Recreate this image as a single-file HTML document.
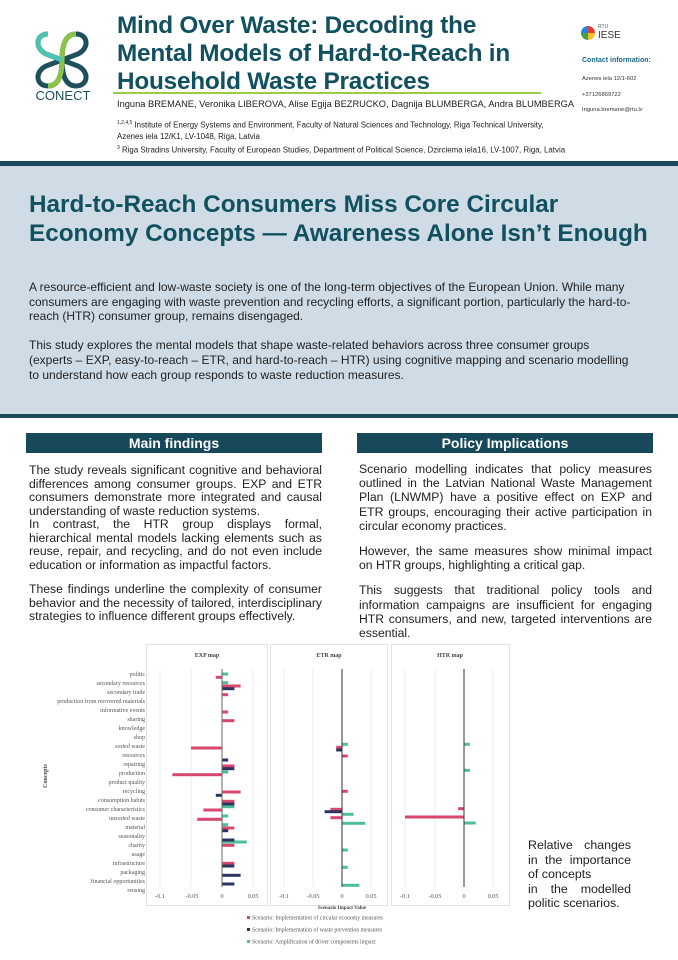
<!DOCTYPE html>
<html><head><meta charset="utf-8"><style>
*{margin:0;padding:0;box-sizing:border-box}
body{width:678px;height:960px;position:relative;background:#fff;font-family:"Liberation Sans",sans-serif;overflow:hidden;color:#222}
.a{position:absolute}
.t1{left:117px;top:12px;font-size:24.3px;line-height:28px;font-weight:bold;color:#10505f;letter-spacing:-0.2px}
.sec{background:#17495a;color:#fff;font-weight:bold;font-size:14px;text-align:center;height:20px;line-height:20px}
.body{font-size:12.2px;text-align:justify;color:#222}
.body p{margin-bottom:11px}
</style></head><body>
<svg class="a" style="left:28px;top:26px" width="70" height="78" viewBox="0 0 70 78">
<path d="M20 8 C8 8 6 22 18 28 L34 34 L50 40 C62 46 60 60 48 60 C38 60 34 50 34 34 C34 18 38 8 48 8 C60 8 62 22 50 28 L34 34 L18 40 C6 46 8 60 20 60 C30 60 34 50 34 34" fill="none" stroke="#1f4f5c" stroke-width="5"/>
<path d="M48 8 C38 8 34 18 34 34 C34 50 30 60 20 60" fill="none" stroke="#8bc34a" stroke-width="5"/>
<path d="M20 8 C8 8 6 22 18 28 L34 34" fill="none" stroke="#4fc1b0" stroke-width="5"/>
<text x="35" y="74" text-anchor="middle" font-family="Liberation Sans" font-size="13" fill="#1f4f5c">CONECT</text>
</svg>
<div class="a t1">Mind Over Waste: Decoding the<br>Mental Models of Hard-to-Reach in<br>Household Waste Practices</div>
<div class="a" style="left:113px;top:92px;width:428px;height:2px;background:#9ccc44"></div>
<div class="a" style="left:117px;top:99px;font-size:9.3px;color:#222">Inguna BREMANE, Veronika LIBEROVA, Alise Egija BEZRUCKO, Dagnija BLUMBERGA, Andra BLUMBERGA</div>
<div class="a" style="left:117px;top:118px;font-size:7.9px;line-height:11.5px;color:#222"><sup style="font-size:5px">1,2,4,5</sup> Institute of Energy Systems and Environment, Faculty of Natural Sciences and Technology, Riga Technical University,<br>Azenes iela 12/K1, LV-1048, Riga, Latvia<br><sup style="font-size:5px">3</sup> Riga Stradins University, Faculty of European Studies, Department of Political Science, Dzirciema iela16, LV-1007, Riga, Latvia</div>
<div class="a" style="left:581px;top:26px;width:14px;height:14px;border-radius:50%;background:conic-gradient(#e53935 0 25%,#fbc02d 0 50%,#43a047 0 75%,#1e88e5 0)"></div>
<div class="a" style="left:598px;top:24px;font-size:5px;color:#555">RTU</div>
<div class="a" style="left:598px;top:30px;font-size:10px;color:#333">IESE</div>
<div class="a" style="left:582px;top:57px;font-size:7px;font-weight:bold;color:#1f6a86">Contact information:</div>
<div class="a" style="left:582px;top:72px;font-size:5.8px;line-height:15.5px;color:#333">Azenes iela 12/1-602<br>+37126869722<br>Inguna.bremane@rtu.lv</div>
<div class="a" style="left:0;top:161px;width:678px;height:5px;background:#1b4a5a"></div>
<div class="a" style="left:0;top:166px;width:678px;height:249px;background:#cfdce6"></div>
<div class="a" style="left:0;top:414px;width:678px;height:4px;background:#1b4a5a"></div>
<div class="a" style="left:29px;top:190px;font-size:24.3px;line-height:29px;font-weight:bold;color:#10505f">Hard-to-Reach Consumers Miss Core Circular<br>Economy Concepts — Awareness Alone Isn’t Enough</div>
<div class="a" style="left:29px;top:280px;width:616px;font-size:12px;line-height:14.6px;color:#222;white-space:nowrap">A resource-efficient and low-waste society is one of the long-term objectives of the European Union. While many<br>consumers are engaging with waste prevention and recycling efforts, a significant portion, particularly the hard-to-<br>reach (HTR) consumer group, remains disengaged.<br><br>This study explores the mental models that shape waste-related behaviors across three consumer groups<br>(experts – EXP, easy-to-reach – ETR, and hard-to-reach – HTR) using cognitive mapping and scenario modelling<br>to understand how each group responds to waste reduction measures.</div>
<div class="a sec" style="left:26px;top:433px;width:296px">Main findings</div>
<div class="a sec" style="left:357px;top:433px;width:296px">Policy Implications</div>
<div class="a body" style="left:29px;top:464px;width:293px;line-height:13.5px"><p>The study reveals significant cognitive and behavioral differences among consumer groups. EXP and ETR consumers demonstrate more integrated and causal understanding of waste reduction systems.<br>In contrast, the HTR group displays formal, hierarchical mental models lacking elements such as reuse, repair, and recycling, and do not even include education or information as impactful factors.</p><p>These findings underline the complexity of consumer behavior and the necessity of tailored, interdisciplinary strategies to influence different groups effectively.</p></div>
<div class="a body" style="left:359px;top:462px;width:293px;line-height:14.2px"><p>Scenario modelling indicates that policy measures outlined in the Latvian National Waste Management Plan (LNWMP) have a positive effect on EXP and ETR groups, encouraging their active participation in circular economy practices.</p><p>However, the same measures show minimal impact on HTR groups, highlighting a critical gap.</p><p>This suggests that traditional policy tools and information campaigns are insufficient for engaging HTR consumers, and new, targeted interventions are essential.</p></div>
<div class="a body" style="left:528px;top:838px;width:103px;font-size:12.4px;line-height:14.5px">Relative changes in the importance of concepts<br>in the modelled politic scenarios.</div>
<svg class="a" style="left:0;top:0" width="678" height="960" font-family="Liberation Serif,serif">
<g fill="none" stroke="#ddd" stroke-width="0.8">
<rect x="146.5" y="644.5" width="121" height="261"/>
<rect x="270.5" y="644.5" width="117" height="261"/>
<rect x="391.5" y="644.5" width="118" height="261"/>
</g>
<g stroke="#eaeaea" stroke-width="0.8">
<line x1="160" y1="669" x2="160" y2="887"/><line x1="191" y1="669" x2="191" y2="887"/><line x1="253" y1="669" x2="253" y2="887"/>
<line x1="284" y1="669" x2="284" y2="887"/><line x1="313" y1="669" x2="313" y2="887"/><line x1="371" y1="669" x2="371" y2="887"/>
<line x1="405" y1="669" x2="405" y2="887"/><line x1="435" y1="669" x2="435" y2="887"/><line x1="493" y1="669" x2="493" y2="887"/>
</g>
<g font-size="6" font-weight="bold" fill="#444" text-anchor="middle">
<text x="207" y="657">EXP map</text><text x="329" y="657">ETR map</text><text x="450" y="657">HTR map</text>
<text x="342" y="909" font-size="5">Scenario Impact Value</text>
</g>
<text transform="translate(47,776) rotate(-90)" font-size="6" font-weight="bold" fill="#444" text-anchor="middle">Concepts</text>
<g font-size="6.2" fill="#555" text-anchor="middle">
<text x="160" y="898">-0.1</text><text x="192" y="898">-0.05</text><text x="222" y="898">0</text><text x="253" y="898">0.05</text>
<text x="284" y="898">-0.1</text><text x="313" y="898">-0.05</text><text x="342" y="898">0</text><text x="371" y="898">0.05</text>
<text x="405" y="898">-0.1</text><text x="435" y="898">-0.05</text><text x="464" y="898">0</text><text x="493" y="898">0.05</text>
</g>
<g font-size="6" fill="#555" text-anchor="end">
<text x="145" y="676">politic</text><text x="145" y="685">secondary resources</text><text x="145" y="694">secondary trade</text><text x="145" y="703">production from recovered materials</text><text x="145" y="712">informative events</text><text x="145" y="721">sharing</text><text x="145" y="730">knowledge</text><text x="145" y="739">shop</text><text x="145" y="748">sorted waste</text><text x="145" y="757">resources</text><text x="145" y="766">repairing</text><text x="145" y="775">production</text><text x="145" y="784">product quality</text><text x="145" y="793">recycling</text><text x="145" y="802">consumption habits</text><text x="145" y="811">consumer characteristics</text><text x="145" y="820">unsorted waste</text><text x="145" y="829">material</text><text x="145" y="838">seasonality</text><text x="145" y="847">charity</text><text x="145" y="856">usage</text><text x="145" y="865">infrastructure</text><text x="145" y="874">packaging</text><text x="145" y="883">financial opportunities</text><text x="145" y="892">reusing</text>
</g>
<g fill="#4fbf9a">
<rect x="222" y="672.5" width="6.2" height="3"/><rect x="222" y="681.2" width="6.2" height="3"/><rect x="222" y="770.5" width="6.2" height="3"/><rect x="222" y="805.2" width="12.4" height="3"/><rect x="222" y="814.5" width="6.2" height="3"/><rect x="222" y="823.2" width="6.2" height="3"/><rect x="222" y="840.5" width="24.8" height="3"/>
<rect x="342" y="742.8" width="5.8" height="3"/><rect x="342" y="812.8" width="11.6" height="3"/><rect x="342" y="821.8" width="23.2" height="3"/><rect x="342" y="848.5" width="5.8" height="3"/><rect x="342" y="865.8" width="5.8" height="3"/><rect x="342" y="883.8" width="17.4" height="3"/>
<rect x="464" y="742.8" width="5.9" height="3"/><rect x="464" y="768.8" width="5.9" height="3"/><rect x="464" y="821.5" width="11.8" height="3"/>
</g>
<g fill="#d9466e">
<rect x="215.8" y="675.8" width="6.2" height="3"/><rect x="222" y="684.5" width="18.6" height="3"/><rect x="222" y="693.2" width="6.2" height="3"/><rect x="222" y="710.5" width="6.2" height="3"/><rect x="222" y="719.2" width="12.4" height="3"/><rect x="191" y="746.5" width="31" height="3"/><rect x="222" y="764.5" width="12.4" height="3"/><rect x="172.4" y="773.2" width="49.6" height="3"/><rect x="222" y="790.5" width="18.6" height="3"/><rect x="222" y="799.8" width="12.4" height="3"/><rect x="203.4" y="808.5" width="18.6" height="3"/><rect x="197.2" y="817.8" width="24.8" height="3"/><rect x="222" y="826.5" width="12.4" height="3"/><rect x="222" y="843.8" width="12.4" height="3"/><rect x="222" y="861.8" width="12.4" height="3"/>
<rect x="336.2" y="745.8" width="5.8" height="3"/><rect x="342" y="754.5" width="5.8" height="3"/><rect x="342" y="789.8" width="5.8" height="3"/><rect x="330.4" y="807.8" width="11.6" height="3"/><rect x="330.4" y="816.2" width="11.6" height="3"/>
<rect x="458.1" y="807.2" width="5.9" height="3"/><rect x="405" y="815.5" width="59" height="3"/>
</g>
<g fill="#2e3462">
<rect x="222" y="687.2" width="12.4" height="3"/><rect x="222" y="758.5" width="6.2" height="3"/><rect x="222" y="767.2" width="12.4" height="3"/><rect x="215.8" y="793.8" width="6.2" height="3"/><rect x="222" y="802.5" width="12.4" height="3"/><rect x="222" y="829.2" width="6.2" height="3"/><rect x="222" y="838.5" width="12.4" height="3"/><rect x="222" y="864.5" width="12.4" height="3"/><rect x="222" y="873.8" width="18.6" height="3"/><rect x="222" y="882.5" width="12.4" height="3"/>
<rect x="336.2" y="748.5" width="5.8" height="3"/><rect x="324.6" y="810.2" width="17.4" height="3"/>
</g>
<line x1="222" y1="669" x2="222" y2="887" stroke="#666" stroke-width="1"/>
<line x1="342" y1="669" x2="342" y2="887" stroke="#333" stroke-width="1"/>
<line x1="464" y1="669" x2="464" y2="887" stroke="#333" stroke-width="1"/>
<g font-size="5.8" fill="#555">
<rect x="247" y="916" width="3" height="3" fill="#d9466e"/><text x="252" y="919.5">Scenario: Implementation of circular economy measures</text>
<rect x="247" y="928" width="3" height="3" fill="#2e3462"/><text x="252" y="931.5">Scenario: Implementation of waste prevention measures</text>
<rect x="247" y="940" width="3" height="3" fill="#4fbf9a"/><text x="252" y="943.5">Scenario: Amplification of driver components impact</text>
</g>
</svg>
</body></html>
